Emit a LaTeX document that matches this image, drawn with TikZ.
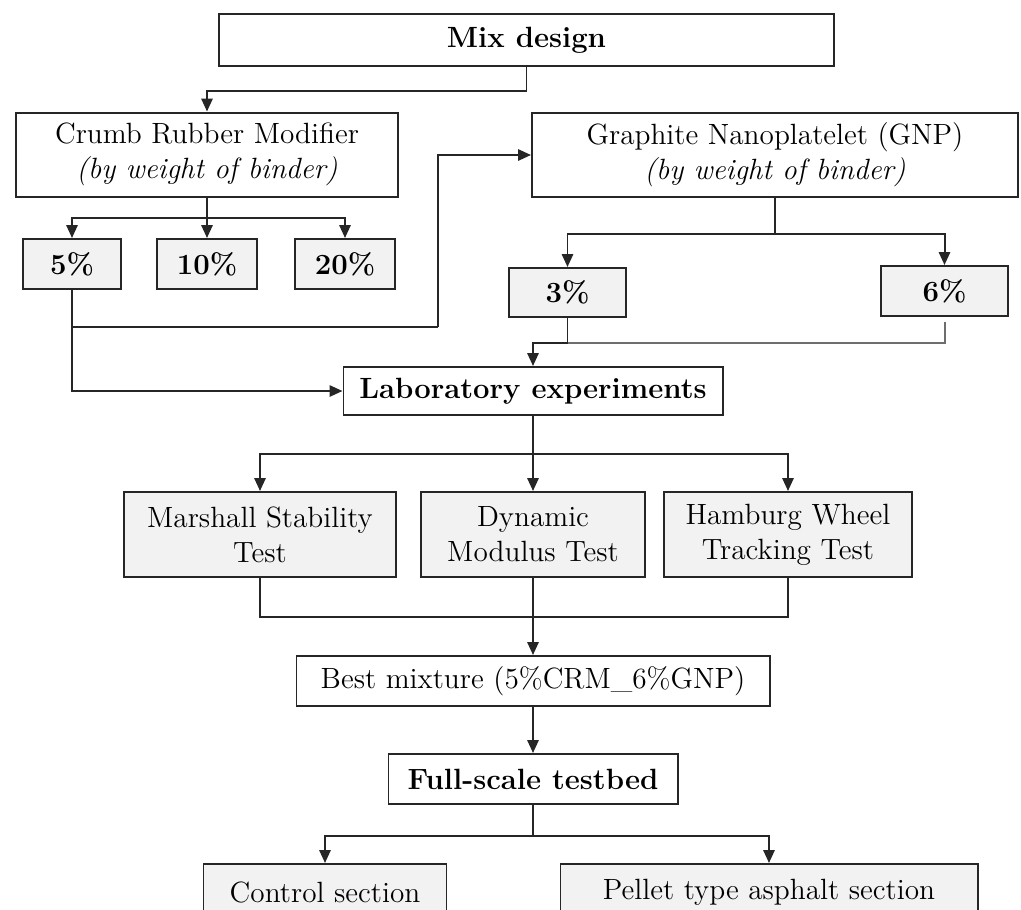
\documentclass[tikz,border=0pt]{standalone}
\usepackage{tikz}
\usetikzlibrary{positioning,arrows.meta}
\definecolor{boxline}{HTML}{262626}
\definecolor{boxfill}{HTML}{F2F2F2}
\definecolor{softline}{HTML}{6E6E6E}

\begin{document}
\begin{tikzpicture}[
  x=0.015cm, y=-0.015cm,
  font=\fontsize{12.5}{15}\selectfont,
  wh/.style 2 args={minimum width=#1*0.015cm, minimum height=#2*0.015cm},
  block/.style={rectangle, draw=boxline, line width=0.85pt, fill=white,
    align=center, inner sep=2pt},
  bold/.style={font=\fontsize{12.5}{15}\selectfont\bfseries},
  pct/.style={block, bold, fill=boxfill},
  test/.style={block, fill=boxfill},
  arrow/.style={-{Triangle[length=5.5pt,width=4.8pt]}, line width=0.85pt, color=boxline},
  link/.style={line width=0.85pt, color=boxline},
]
\useasboundingbox (0,0) rectangle (1021,909);

\node[block,bold,wh={615}{52}] (mix) at (526.5,40) {Mix design};
\node[block,wh={382}{84}] (crm) at (207,154.5) {Crumb Rubber Modifier\\\textit{(by weight of binder)}};
\node[pct,wh={98}{50}] (c5) at (72,264) {5\%};
\node[pct,wh={100}{50}] (c10) at (207,264) {10\%};
\node[pct,wh={100}{50}] (c20) at (345,264) {20\%};
\node[block,wh={486}{84}] (gnp) at (775,155) {Graphite Nanoplatelet (GNP)\\\textit{(by weight of binder)}};
\node[pct,wh={117}{49}] (g3) at (567.5,292.5) {3\%};
\node[pct,wh={127}{50}] (g6) at (944.5,291) {6\%};
\node[block,bold,wh={379}{48}] (lab) at (533,391) {Laboratory experiments};
\node[test,wh={272}{85}] (msl) at (260,534.5) {Marshall Stability\\Test};
\node[test,wh={224}{85}] (dyn) at (533,534.5) {Dynamic\\Modulus Test};
\node[test,wh={248}{85}] (hwt) at (788,534.5) {Hamburg Wheel\\Tracking Test};
\node[block,wh={473}{50}] (best) at (533,681) {Best mixture (5\%CRM\_6\%GNP)};
\node[block,bold,wh={289}{50}] (full) at (533,779) {Full-scale testbed};
\node[test,wh={243}{56}] (ctrl) at (325,892) {Control section};
\node[test,wh={417}{56}] (pel) at (769,892) {Pellet type asphalt section};

% modifiers
\draw[arrow] (mix.south) -- ++(0,24) -| (crm.north);
\draw[link] (crm.south) -- ++(0,20.5) coordinate (cb);
\draw[arrow] (cb) -| (c5.north);
\draw[arrow] (cb) -- (c10.north);
\draw[arrow] (cb) -| (c20.north);
\coordinate (j1) at (438,327);
\draw[link] (c5.south |- j1) -- (j1);
\draw[arrow] (j1) |- (gnp.west);
\draw[arrow] (c5.south) |- (lab.west);
\draw[link] (gnp.south) -- ++(0,36) coordinate (gb);
\draw[arrow] (gb) -| (g3.north);
\draw[arrow] (gb) -| (g6.north);
\draw[link] (g3.south) -- ++(0,24.5) coordinate (g3b);
\draw[arrow] (g3b) -| (lab.north);
\draw[link,color=softline] (g6.south) ++(0,5) |- (g3b);

% tests
\draw[link] (lab.south) -- ++(0,38) coordinate (lb);
\draw[arrow] (lb) -| (msl.north);
\draw[arrow] (lb) -- (dyn.north);
\draw[arrow] (lb) -| (hwt.north);
\draw[link] (msl.south) -- ++(0,39) -| (hwt.south);
\draw[arrow] (dyn.south) -- (best.north);
\draw[arrow] (best) -- (full);
\draw[link] (full.south) -- ++(0,31) coordinate (fb);
\draw[arrow] (fb) -| (ctrl.north);
\draw[arrow] (fb) -| (pel.north);
\end{tikzpicture}
\end{document}
